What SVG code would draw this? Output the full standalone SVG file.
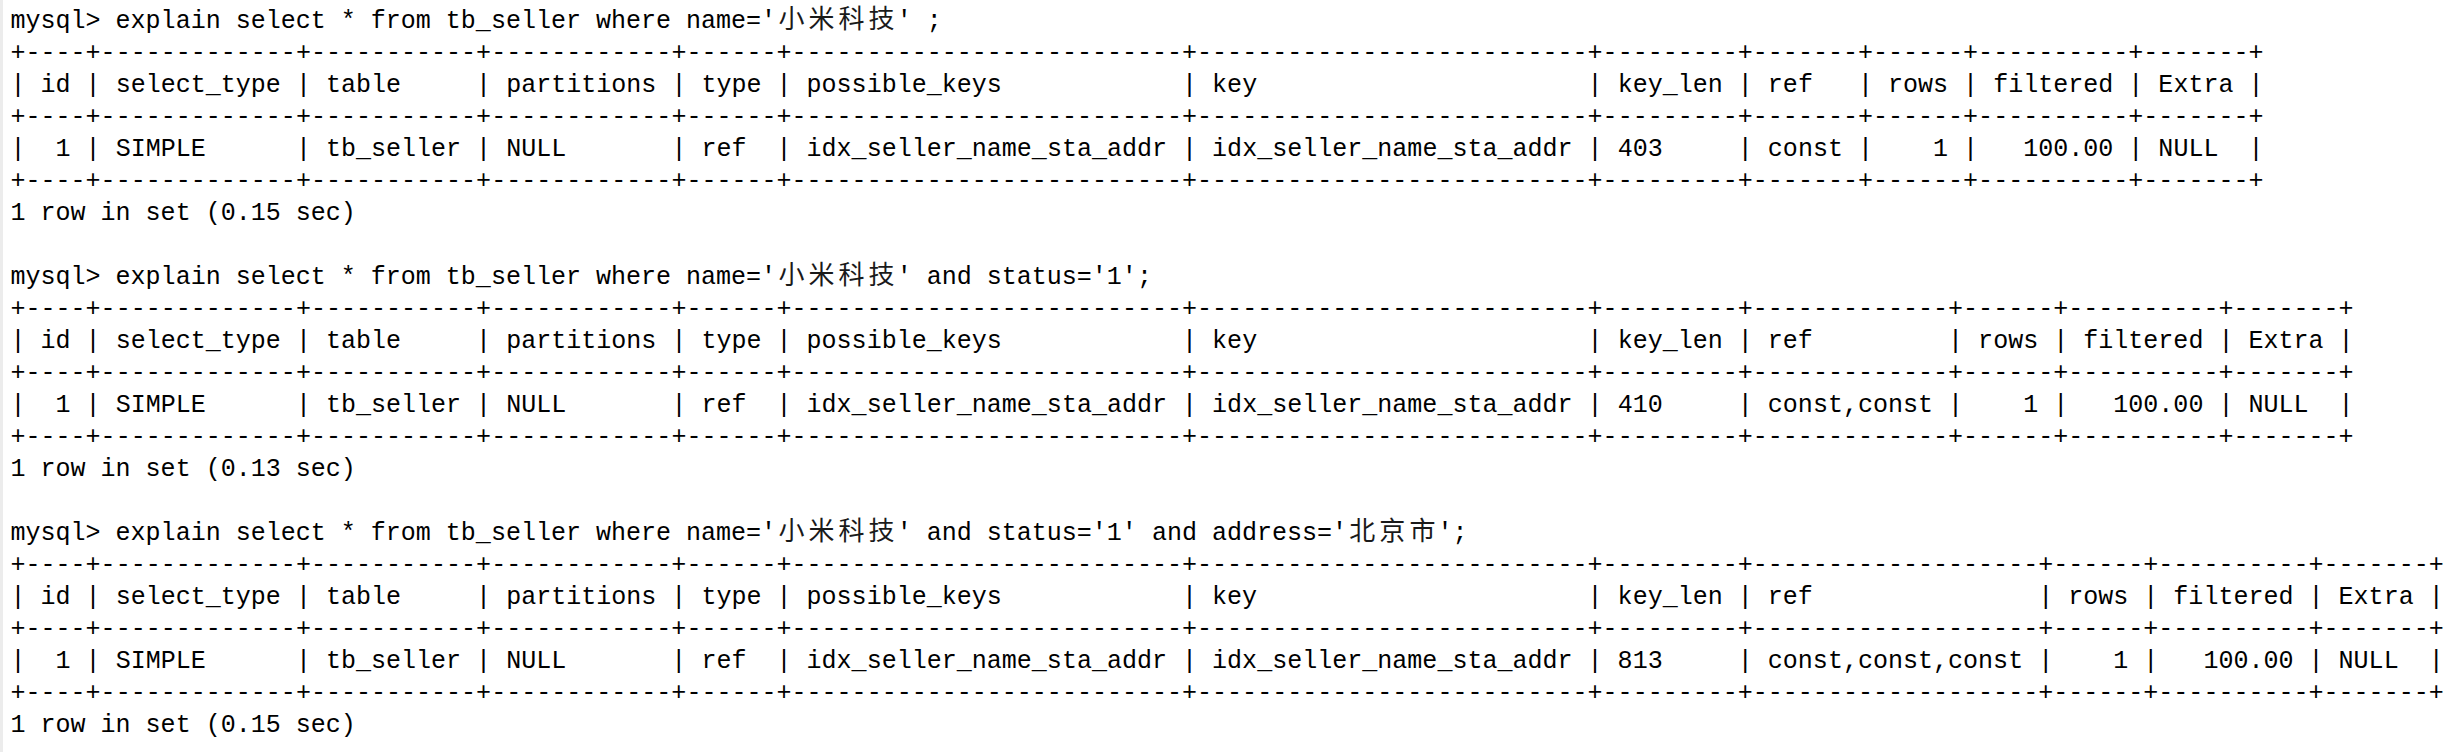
<svg xmlns="http://www.w3.org/2000/svg" width="2455" height="752" viewBox="0 0 2455 752">
<style>
.m{font-family:"Liberation Mono","DejaVu Sans Mono",monospace;font-size:25.03px;fill:#000;white-space:pre}
.c{font-family:"Noto Sans CJK SC",sans-serif;font-size:26px;fill:#1a1a1a}
</style>
<rect width="2455" height="752" fill="#fff"/>
<rect x="0" y="0" width="3" height="752" fill="#ececec"/>
<g id="query1">
<text class="m" x="10.5" y="28" xml:space="preserve">mysql&gt; explain select * from tb_seller where name='</text>
<text class="c" x="778.5 808.6 838.6 868.6" y="28">小米科技</text>
<text class="m" x="896.7" y="28" xml:space="preserve">' ;</text>
<text class="m" x="10.5" y="60" textLength="2253" xml:space="preserve">+----+-------------+-----------+------------+------+--------------------------+--------------------------+---------+-------+------+----------+-------+</text>
<text class="m" x="10.5" y="92" textLength="2253" xml:space="preserve">| id | select_type | table     | partitions | type | possible_keys            | key                      | key_len | ref   | rows | filtered | Extra |</text>
<text class="m" x="10.5" y="124" textLength="2253" xml:space="preserve">+----+-------------+-----------+------------+------+--------------------------+--------------------------+---------+-------+------+----------+-------+</text>
<text class="m" x="10.5" y="156" textLength="2253" xml:space="preserve">|  1 | SIMPLE      | tb_seller | NULL       | ref  | idx_seller_name_sta_addr | idx_seller_name_sta_addr | 403     | const |    1 |   100.00 | NULL  |</text>
<text class="m" x="10.5" y="188" textLength="2253" xml:space="preserve">+----+-------------+-----------+------------+------+--------------------------+--------------------------+---------+-------+------+----------+-------+</text>
<text class="m" x="10.5" y="220" xml:space="preserve">1 row in set (0.15 sec)</text>
</g>
<g id="query2">
<text class="m" x="10.5" y="284" xml:space="preserve">mysql&gt; explain select * from tb_seller where name='</text>
<text class="c" x="778.5 808.6 838.6 868.6" y="284">小米科技</text>
<text class="m" x="896.7" y="284" xml:space="preserve">' and status='1';</text>
<text class="m" x="10.5" y="316" textLength="2343.1" xml:space="preserve">+----+-------------+-----------+------------+------+--------------------------+--------------------------+---------+-------------+------+----------+-------+</text>
<text class="m" x="10.5" y="348" textLength="2343.1" xml:space="preserve">| id | select_type | table     | partitions | type | possible_keys            | key                      | key_len | ref         | rows | filtered | Extra |</text>
<text class="m" x="10.5" y="380" textLength="2343.1" xml:space="preserve">+----+-------------+-----------+------------+------+--------------------------+--------------------------+---------+-------------+------+----------+-------+</text>
<text class="m" x="10.5" y="412" textLength="2343.1" xml:space="preserve">|  1 | SIMPLE      | tb_seller | NULL       | ref  | idx_seller_name_sta_addr | idx_seller_name_sta_addr | 410     | const,const |    1 |   100.00 | NULL  |</text>
<text class="m" x="10.5" y="444" textLength="2343.1" xml:space="preserve">+----+-------------+-----------+------------+------+--------------------------+--------------------------+---------+-------------+------+----------+-------+</text>
<text class="m" x="10.5" y="476" xml:space="preserve">1 row in set (0.13 sec)</text>
</g>
<g id="query3">
<text class="m" x="10.5" y="540" xml:space="preserve">mysql&gt; explain select * from tb_seller where name='</text>
<text class="c" x="778.5 808.6 838.6 868.6" y="540">小米科技</text>
<text class="m" x="896.7" y="540" xml:space="preserve">' and status='1' and address='</text>
<text class="c" x="1349.3 1379.3 1409.4" y="540">北京市</text>
<text class="m" x="1437.4" y="540" xml:space="preserve">';</text>
<text class="m" x="10.5" y="572" textLength="2433.2" xml:space="preserve">+----+-------------+-----------+------------+------+--------------------------+--------------------------+---------+-------------------+------+----------+-------+</text>
<text class="m" x="10.5" y="604" textLength="2433.2" xml:space="preserve">| id | select_type | table     | partitions | type | possible_keys            | key                      | key_len | ref               | rows | filtered | Extra |</text>
<text class="m" x="10.5" y="636" textLength="2433.2" xml:space="preserve">+----+-------------+-----------+------------+------+--------------------------+--------------------------+---------+-------------------+------+----------+-------+</text>
<text class="m" x="10.5" y="668" textLength="2433.2" xml:space="preserve">|  1 | SIMPLE      | tb_seller | NULL       | ref  | idx_seller_name_sta_addr | idx_seller_name_sta_addr | 813     | const,const,const |    1 |   100.00 | NULL  |</text>
<text class="m" x="10.5" y="700" textLength="2433.2" xml:space="preserve">+----+-------------+-----------+------------+------+--------------------------+--------------------------+---------+-------------------+------+----------+-------+</text>
<text class="m" x="10.5" y="732" xml:space="preserve">1 row in set (0.15 sec)</text>
</g>
</svg>
